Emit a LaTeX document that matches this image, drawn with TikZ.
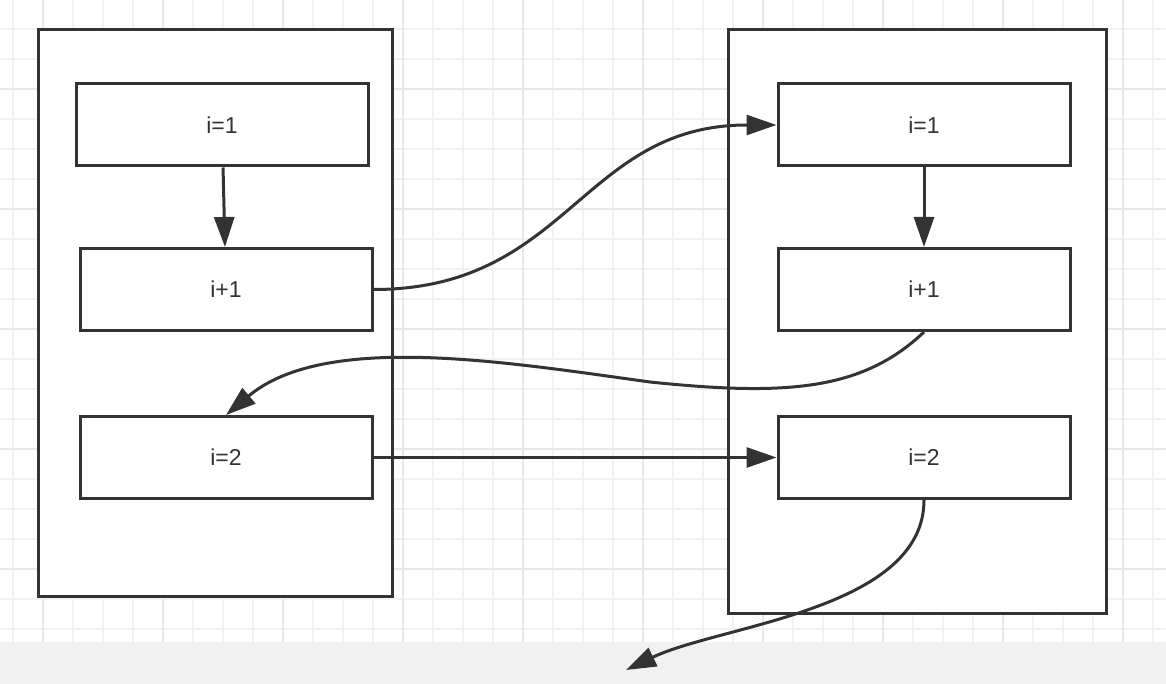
\documentclass[tikz,border=0pt]{standalone}
\usepackage{xcolor}
\usepackage{fontspec}
\setmainfont{Liberation Sans}
\usepackage{tikz}
\usetikzlibrary{calc, positioning, arrows.meta}

\definecolor{ink}{HTML}{333333}
\definecolor{gridminor}{HTML}{F2F2F2}
\definecolor{gridmajor}{HTML}{E8E8E8}
\definecolor{strip}{HTML}{F1F1F1}

\begin{document}
\begin{tikzpicture}[x=1pt, y=-1pt,
		box/.style={draw=ink, line width=3pt, fill=white, minimum width=292pt, minimum height=82pt, inner sep=0pt, text=ink, font=\fontsize{23}{27}\selectfont},
		frame/.style={draw=ink, line width=3pt, fill=white, inner sep=0pt},
		arr/.style={draw=ink, line width=3pt, -{Triangle[length=30pt, width=20pt]}}]
		\useasboundingbox (0,0) rectangle (1166,684);
		\fill[white] (0,0) rectangle (1166,684);

		% grid
		\foreach \gx in {13,43,...,1163} {
			\draw[gridminor, line width=1.5pt] (\gx,0) -- (\gx,642);
		}
		\foreach \gy in {29,59,...,629} {
			\draw[gridminor, line width=1.5pt] (0,\gy) -- (1166,\gy);
		}
		\foreach \gx in {43,163,...,1163} {
			\draw[gridmajor, line width=2pt] (\gx,0) -- (\gx,642);
		}
		\foreach \gy in {89,209,...,569} {
			\draw[gridmajor, line width=2pt] (0,\gy) -- (1166,\gy);
		}
		\fill[strip] (0,642) rectangle (1166,684);

		% outer frames
		\node[frame, minimum width=354pt, minimum height=566pt] (leftcol) at (215,313) {};
		\node[frame, minimum width=378pt, minimum height=583pt] (rightcol) at (917,321.5) {};

		% inner boxes
		\node[box] (l1) at (222,125) {i=1};
		\node[box] (l2) at (226,289.5) {i+1};
		\node[box] (l3) at (226,457.5) {i=2};

		\node[box] (r1) at (924,125) {i=1};
		\node[box] (r2) at (924,289.5) {i+1};
		\node[box] (r3) at (924,457.5) {i=2};

		\coordinate (exit) at (626,670);

		\draw[arr] (l1) -- (l2);
		\draw[arr] (r1) -- (r2);
		\draw[arr] (l3) -- (r3);

		\draw[arr]
		(l2.east) .. controls +(195,0) and +(-195,0) .. (r1.west);

		\draw[arr]
		(r2.south) .. controls +(-62,59) and (785,396) .. (650,382)
		.. controls (505,362) and (325,332) .. (l3.north);

		\draw[arr]
		(r3.south) .. controls +(0,110) and +(94,-45) .. (exit);

	\end{tikzpicture}
\end{document}
